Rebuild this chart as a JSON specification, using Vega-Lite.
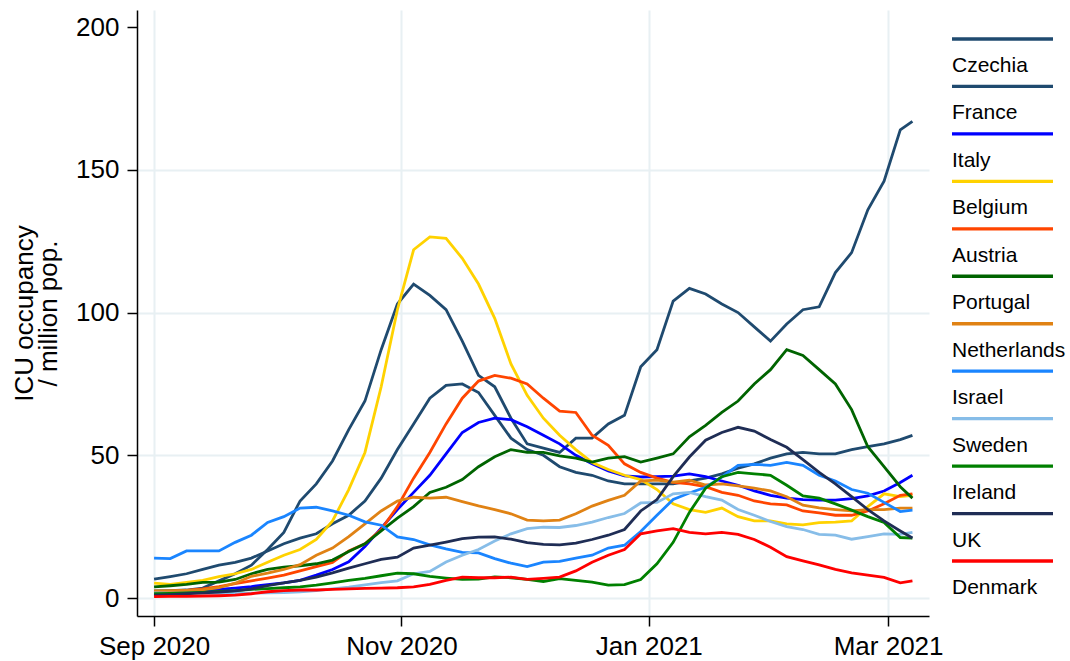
{
"$schema": "https://vega.github.io/schema/vega-lite/v6.json",
"background": "white",
"padding": {"left": 11, "top": 10, "right": 5, "bottom": 5},
"config": {"font": "Liberation Sans", "view": {"stroke": null}, "axis": {"labelFont": "Liberation Sans", "titleFont": "Liberation Sans", "labelColor": "black", "titleColor": "black", "domainColor": "black", "tickColor": "black"}},
"spacing": 6,
"datasets": {
"legend": [{"country":"Czechia"},{"country":"France"},{"country":"Italy"},{"country":"Belgium"},{"country":"Austria"},{"country":"Portugal"},{"country":"Netherlands"},{"country":"Israel"},{"country":"Sweden"},{"country":"Ireland"},{"country":"UK"},{"country":"Denmark"}],
"icu": [
{"date":"2020-09-01","country":"Czechia","value":2.5},{"date":"2020-09-05","country":"Czechia","value":2.6},{"date":"2020-09-09","country":"Czechia","value":2.8},{"date":"2020-09-13","country":"Czechia","value":3.5},{"date":"2020-09-17","country":"Czechia","value":6},{"date":"2020-09-21","country":"Czechia","value":8.5},{"date":"2020-09-25","country":"Czechia","value":11.5},{"date":"2020-09-29","country":"Czechia","value":17},{"date":"2020-10-03","country":"Czechia","value":23},{"date":"2020-10-07","country":"Czechia","value":34},{"date":"2020-10-11","country":"Czechia","value":40},{"date":"2020-10-15","country":"Czechia","value":48},{"date":"2020-10-19","country":"Czechia","value":59},{"date":"2020-10-23","country":"Czechia","value":69},{"date":"2020-10-27","country":"Czechia","value":87},{"date":"2020-10-31","country":"Czechia","value":103},{"date":"2020-11-04","country":"Czechia","value":110},{"date":"2020-11-08","country":"Czechia","value":106},{"date":"2020-11-12","country":"Czechia","value":101},{"date":"2020-11-16","country":"Czechia","value":90},{"date":"2020-11-20","country":"Czechia","value":78},{"date":"2020-11-24","country":"Czechia","value":74},{"date":"2020-11-28","country":"Czechia","value":63},{"date":"2020-12-02","country":"Czechia","value":54},{"date":"2020-12-06","country":"Czechia","value":52.5},{"date":"2020-12-10","country":"Czechia","value":51},{"date":"2020-12-14","country":"Czechia","value":56},{"date":"2020-12-18","country":"Czechia","value":56},{"date":"2020-12-22","country":"Czechia","value":61},{"date":"2020-12-26","country":"Czechia","value":64},{"date":"2020-12-30","country":"Czechia","value":81},{"date":"2021-01-03","country":"Czechia","value":87},{"date":"2021-01-07","country":"Czechia","value":104},{"date":"2021-01-11","country":"Czechia","value":108.5},{"date":"2021-01-15","country":"Czechia","value":106.5},{"date":"2021-01-19","country":"Czechia","value":103},{"date":"2021-01-23","country":"Czechia","value":100},{"date":"2021-01-27","country":"Czechia","value":95},{"date":"2021-01-31","country":"Czechia","value":90},{"date":"2021-02-04","country":"Czechia","value":96},{"date":"2021-02-08","country":"Czechia","value":101},{"date":"2021-02-12","country":"Czechia","value":102},{"date":"2021-02-16","country":"Czechia","value":114},{"date":"2021-02-20","country":"Czechia","value":121},{"date":"2021-02-24","country":"Czechia","value":136},{"date":"2021-02-28","country":"Czechia","value":146},{"date":"2021-03-04","country":"Czechia","value":164},{"date":"2021-03-07","country":"Czechia","value":167},
{"date":"2020-09-01","country":"France","value":6.6},{"date":"2020-09-05","country":"France","value":7.5},{"date":"2020-09-09","country":"France","value":8.5},{"date":"2020-09-13","country":"France","value":10},{"date":"2020-09-17","country":"France","value":11.5},{"date":"2020-09-21","country":"France","value":12.5},{"date":"2020-09-25","country":"France","value":14},{"date":"2020-09-29","country":"France","value":16.5},{"date":"2020-10-03","country":"France","value":19},{"date":"2020-10-07","country":"France","value":21},{"date":"2020-10-11","country":"France","value":22.5},{"date":"2020-10-15","country":"France","value":26},{"date":"2020-10-19","country":"France","value":29},{"date":"2020-10-23","country":"France","value":34},{"date":"2020-10-27","country":"France","value":42},{"date":"2020-10-31","country":"France","value":52},{"date":"2020-11-04","country":"France","value":61},{"date":"2020-11-08","country":"France","value":70},{"date":"2020-11-12","country":"France","value":74.5},{"date":"2020-11-16","country":"France","value":75},{"date":"2020-11-20","country":"France","value":72},{"date":"2020-11-24","country":"France","value":64},{"date":"2020-11-28","country":"France","value":56},{"date":"2020-12-02","country":"France","value":52},{"date":"2020-12-06","country":"France","value":50},{"date":"2020-12-10","country":"France","value":46},{"date":"2020-12-14","country":"France","value":44},{"date":"2020-12-18","country":"France","value":43},{"date":"2020-12-22","country":"France","value":41},{"date":"2020-12-26","country":"France","value":40},{"date":"2020-12-30","country":"France","value":40},{"date":"2021-01-03","country":"France","value":40},{"date":"2021-01-07","country":"France","value":40},{"date":"2021-01-11","country":"France","value":41},{"date":"2021-01-15","country":"France","value":42},{"date":"2021-01-19","country":"France","value":43.5},{"date":"2021-01-23","country":"France","value":45.5},{"date":"2021-01-27","country":"France","value":47},{"date":"2021-01-31","country":"France","value":49},{"date":"2021-02-04","country":"France","value":50.5},{"date":"2021-02-08","country":"France","value":51},{"date":"2021-02-12","country":"France","value":50.5},{"date":"2021-02-16","country":"France","value":50.5},{"date":"2021-02-20","country":"France","value":52},{"date":"2021-02-24","country":"France","value":53},{"date":"2021-02-28","country":"France","value":54},{"date":"2021-03-04","country":"France","value":55.5},{"date":"2021-03-07","country":"France","value":57},
{"date":"2020-09-01","country":"Italy","value":1.8},{"date":"2020-09-05","country":"Italy","value":2},{"date":"2020-09-09","country":"Italy","value":2.3},{"date":"2020-09-13","country":"Italy","value":2.6},{"date":"2020-09-17","country":"Italy","value":3},{"date":"2020-09-21","country":"Italy","value":3.5},{"date":"2020-09-25","country":"Italy","value":4},{"date":"2020-09-29","country":"Italy","value":4.7},{"date":"2020-10-03","country":"Italy","value":5.3},{"date":"2020-10-07","country":"Italy","value":6.2},{"date":"2020-10-11","country":"Italy","value":8},{"date":"2020-10-15","country":"Italy","value":10},{"date":"2020-10-19","country":"Italy","value":12.7},{"date":"2020-10-23","country":"Italy","value":18},{"date":"2020-10-27","country":"Italy","value":24.5},{"date":"2020-10-31","country":"Italy","value":31},{"date":"2020-11-04","country":"Italy","value":37},{"date":"2020-11-08","country":"Italy","value":43},{"date":"2020-11-12","country":"Italy","value":50.5},{"date":"2020-11-16","country":"Italy","value":58},{"date":"2020-11-20","country":"Italy","value":61.5},{"date":"2020-11-24","country":"Italy","value":63},{"date":"2020-11-28","country":"Italy","value":62.5},{"date":"2020-12-02","country":"Italy","value":60},{"date":"2020-12-06","country":"Italy","value":57},{"date":"2020-12-10","country":"Italy","value":54},{"date":"2020-12-14","country":"Italy","value":50},{"date":"2020-12-18","country":"Italy","value":47},{"date":"2020-12-22","country":"Italy","value":44.5},{"date":"2020-12-26","country":"Italy","value":42.8},{"date":"2020-12-30","country":"Italy","value":42.4},{"date":"2021-01-03","country":"Italy","value":42.5},{"date":"2021-01-07","country":"Italy","value":42.7},{"date":"2021-01-11","country":"Italy","value":43.5},{"date":"2021-01-15","country":"Italy","value":42.5},{"date":"2021-01-19","country":"Italy","value":41},{"date":"2021-01-23","country":"Italy","value":39.5},{"date":"2021-01-27","country":"Italy","value":37.5},{"date":"2021-01-31","country":"Italy","value":36},{"date":"2021-02-04","country":"Italy","value":35},{"date":"2021-02-08","country":"Italy","value":34.5},{"date":"2021-02-12","country":"Italy","value":34.3},{"date":"2021-02-16","country":"Italy","value":34.3},{"date":"2021-02-20","country":"Italy","value":34.8},{"date":"2021-02-24","country":"Italy","value":35.8},{"date":"2021-02-28","country":"Italy","value":37.5},{"date":"2021-03-04","country":"Italy","value":40.5},{"date":"2021-03-07","country":"Italy","value":43},
{"date":"2020-09-01","country":"Belgium","value":5.2},{"date":"2020-09-05","country":"Belgium","value":4.8},{"date":"2020-09-09","country":"Belgium","value":5.5},{"date":"2020-09-13","country":"Belgium","value":6.2},{"date":"2020-09-17","country":"Belgium","value":7.5},{"date":"2020-09-21","country":"Belgium","value":8.5},{"date":"2020-09-25","country":"Belgium","value":10},{"date":"2020-09-29","country":"Belgium","value":12.5},{"date":"2020-10-03","country":"Belgium","value":15},{"date":"2020-10-07","country":"Belgium","value":17},{"date":"2020-10-11","country":"Belgium","value":20.5},{"date":"2020-10-15","country":"Belgium","value":27},{"date":"2020-10-19","country":"Belgium","value":38},{"date":"2020-10-23","country":"Belgium","value":51},{"date":"2020-10-27","country":"Belgium","value":74},{"date":"2020-10-31","country":"Belgium","value":101},{"date":"2020-11-04","country":"Belgium","value":122},{"date":"2020-11-08","country":"Belgium","value":126.5},{"date":"2020-11-12","country":"Belgium","value":126},{"date":"2020-11-16","country":"Belgium","value":119},{"date":"2020-11-20","country":"Belgium","value":110},{"date":"2020-11-24","country":"Belgium","value":98},{"date":"2020-11-28","country":"Belgium","value":82},{"date":"2020-12-02","country":"Belgium","value":71},{"date":"2020-12-06","country":"Belgium","value":63},{"date":"2020-12-10","country":"Belgium","value":57},{"date":"2020-12-14","country":"Belgium","value":52},{"date":"2020-12-18","country":"Belgium","value":47.5},{"date":"2020-12-22","country":"Belgium","value":45},{"date":"2020-12-26","country":"Belgium","value":43},{"date":"2020-12-30","country":"Belgium","value":41.5},{"date":"2021-01-03","country":"Belgium","value":38},{"date":"2021-01-07","country":"Belgium","value":33},{"date":"2021-01-11","country":"Belgium","value":31},{"date":"2021-01-15","country":"Belgium","value":30},{"date":"2021-01-19","country":"Belgium","value":31.5},{"date":"2021-01-23","country":"Belgium","value":28.5},{"date":"2021-01-27","country":"Belgium","value":27},{"date":"2021-01-31","country":"Belgium","value":27},{"date":"2021-02-04","country":"Belgium","value":26},{"date":"2021-02-08","country":"Belgium","value":25.6},{"date":"2021-02-12","country":"Belgium","value":26.4},{"date":"2021-02-16","country":"Belgium","value":26.6},{"date":"2021-02-20","country":"Belgium","value":27},{"date":"2021-02-24","country":"Belgium","value":32},{"date":"2021-02-28","country":"Belgium","value":36.5},{"date":"2021-03-04","country":"Belgium","value":35.5},{"date":"2021-03-07","country":"Belgium","value":36},
{"date":"2020-09-01","country":"Austria","value":2},{"date":"2020-09-05","country":"Austria","value":2.3},{"date":"2020-09-09","country":"Austria","value":2.7},{"date":"2020-09-13","country":"Austria","value":3.2},{"date":"2020-09-17","country":"Austria","value":4},{"date":"2020-09-21","country":"Austria","value":5},{"date":"2020-09-25","country":"Austria","value":6},{"date":"2020-09-29","country":"Austria","value":7},{"date":"2020-10-03","country":"Austria","value":8},{"date":"2020-10-07","country":"Austria","value":9.5},{"date":"2020-10-11","country":"Austria","value":11},{"date":"2020-10-15","country":"Austria","value":12.5},{"date":"2020-10-19","country":"Austria","value":16.5},{"date":"2020-10-23","country":"Austria","value":19},{"date":"2020-10-27","country":"Austria","value":24},{"date":"2020-10-31","country":"Austria","value":32},{"date":"2020-11-04","country":"Austria","value":42},{"date":"2020-11-08","country":"Austria","value":51},{"date":"2020-11-12","country":"Austria","value":61},{"date":"2020-11-16","country":"Austria","value":70},{"date":"2020-11-20","country":"Austria","value":76},{"date":"2020-11-24","country":"Austria","value":78},{"date":"2020-11-28","country":"Austria","value":77},{"date":"2020-12-02","country":"Austria","value":75},{"date":"2020-12-06","country":"Austria","value":70},{"date":"2020-12-10","country":"Austria","value":65.5},{"date":"2020-12-14","country":"Austria","value":65},{"date":"2020-12-18","country":"Austria","value":57},{"date":"2020-12-22","country":"Austria","value":53.5},{"date":"2020-12-26","country":"Austria","value":47},{"date":"2020-12-30","country":"Austria","value":44},{"date":"2021-01-03","country":"Austria","value":42},{"date":"2021-01-07","country":"Austria","value":40.5},{"date":"2021-01-11","country":"Austria","value":40},{"date":"2021-01-15","country":"Austria","value":39},{"date":"2021-01-19","country":"Austria","value":37},{"date":"2021-01-23","country":"Austria","value":36},{"date":"2021-01-27","country":"Austria","value":34},{"date":"2021-01-31","country":"Austria","value":33},{"date":"2021-02-04","country":"Austria","value":32.6},{"date":"2021-02-08","country":"Austria","value":30.5},{"date":"2021-02-12","country":"Austria","value":29.8},{"date":"2021-02-16","country":"Austria","value":29},{"date":"2021-02-20","country":"Austria","value":29},{"date":"2021-02-24","country":"Austria","value":30.5},{"date":"2021-02-28","country":"Austria","value":33},{"date":"2021-03-04","country":"Austria","value":36},{"date":"2021-03-07","country":"Austria","value":36.5},
{"date":"2020-09-01","country":"Portugal","value":3.9},{"date":"2020-09-05","country":"Portugal","value":4.3},{"date":"2020-09-09","country":"Portugal","value":4.8},{"date":"2020-09-13","country":"Portugal","value":5.5},{"date":"2020-09-17","country":"Portugal","value":5.6},{"date":"2020-09-21","country":"Portugal","value":6.5},{"date":"2020-09-25","country":"Portugal","value":8.5},{"date":"2020-09-29","country":"Portugal","value":10},{"date":"2020-10-03","country":"Portugal","value":10.8},{"date":"2020-10-07","country":"Portugal","value":11.3},{"date":"2020-10-11","country":"Portugal","value":12},{"date":"2020-10-15","country":"Portugal","value":13.3},{"date":"2020-10-19","country":"Portugal","value":16.3},{"date":"2020-10-23","country":"Portugal","value":19},{"date":"2020-10-27","country":"Portugal","value":23.5},{"date":"2020-10-31","country":"Portugal","value":28},{"date":"2020-11-04","country":"Portugal","value":32},{"date":"2020-11-08","country":"Portugal","value":37},{"date":"2020-11-12","country":"Portugal","value":38.8},{"date":"2020-11-16","country":"Portugal","value":41.5},{"date":"2020-11-20","country":"Portugal","value":46},{"date":"2020-11-24","country":"Portugal","value":49.5},{"date":"2020-11-28","country":"Portugal","value":52},{"date":"2020-12-02","country":"Portugal","value":51},{"date":"2020-12-06","country":"Portugal","value":51},{"date":"2020-12-10","country":"Portugal","value":49.8},{"date":"2020-12-14","country":"Portugal","value":49},{"date":"2020-12-18","country":"Portugal","value":47.6},{"date":"2020-12-22","country":"Portugal","value":49},{"date":"2020-12-26","country":"Portugal","value":49.5},{"date":"2020-12-30","country":"Portugal","value":47.6},{"date":"2021-01-03","country":"Portugal","value":49},{"date":"2021-01-07","country":"Portugal","value":50.5},{"date":"2021-01-11","country":"Portugal","value":56.5},{"date":"2021-01-15","country":"Portugal","value":60.5},{"date":"2021-01-19","country":"Portugal","value":65},{"date":"2021-01-23","country":"Portugal","value":69},{"date":"2021-01-27","country":"Portugal","value":75},{"date":"2021-01-31","country":"Portugal","value":80},{"date":"2021-02-04","country":"Portugal","value":87},{"date":"2021-02-08","country":"Portugal","value":85},{"date":"2021-02-12","country":"Portugal","value":80},{"date":"2021-02-16","country":"Portugal","value":75},{"date":"2021-02-20","country":"Portugal","value":66},{"date":"2021-02-24","country":"Portugal","value":53},{"date":"2021-02-28","country":"Portugal","value":46},{"date":"2021-03-04","country":"Portugal","value":39},{"date":"2021-03-07","country":"Portugal","value":35},
{"date":"2020-09-01","country":"Netherlands","value":2.5},{"date":"2020-09-05","country":"Netherlands","value":2.6},{"date":"2020-09-09","country":"Netherlands","value":2.7},{"date":"2020-09-13","country":"Netherlands","value":2.9},{"date":"2020-09-17","country":"Netherlands","value":3.6},{"date":"2020-09-21","country":"Netherlands","value":5.2},{"date":"2020-09-25","country":"Netherlands","value":7.6},{"date":"2020-09-29","country":"Netherlands","value":8.7},{"date":"2020-10-03","country":"Netherlands","value":10},{"date":"2020-10-07","country":"Netherlands","value":11.7},{"date":"2020-10-11","country":"Netherlands","value":15},{"date":"2020-10-15","country":"Netherlands","value":17.5},{"date":"2020-10-19","country":"Netherlands","value":21.5},{"date":"2020-10-23","country":"Netherlands","value":26},{"date":"2020-10-27","country":"Netherlands","value":30.5},{"date":"2020-10-31","country":"Netherlands","value":34},{"date":"2020-11-04","country":"Netherlands","value":35.3},{"date":"2020-11-08","country":"Netherlands","value":35},{"date":"2020-11-12","country":"Netherlands","value":35.3},{"date":"2020-11-16","country":"Netherlands","value":33.8},{"date":"2020-11-20","country":"Netherlands","value":32.3},{"date":"2020-11-24","country":"Netherlands","value":31},{"date":"2020-11-28","country":"Netherlands","value":29.5},{"date":"2020-12-02","country":"Netherlands","value":27.3},{"date":"2020-12-06","country":"Netherlands","value":27},{"date":"2020-12-10","country":"Netherlands","value":27.3},{"date":"2020-12-14","country":"Netherlands","value":29.5},{"date":"2020-12-18","country":"Netherlands","value":32.2},{"date":"2020-12-22","country":"Netherlands","value":34.2},{"date":"2020-12-26","country":"Netherlands","value":36},{"date":"2020-12-30","country":"Netherlands","value":41},{"date":"2021-01-03","country":"Netherlands","value":41.3},{"date":"2021-01-07","country":"Netherlands","value":40.6},{"date":"2021-01-11","country":"Netherlands","value":41.3},{"date":"2021-01-15","country":"Netherlands","value":39.6},{"date":"2021-01-19","country":"Netherlands","value":40},{"date":"2021-01-23","country":"Netherlands","value":39.3},{"date":"2021-01-27","country":"Netherlands","value":38.5},{"date":"2021-01-31","country":"Netherlands","value":37.5},{"date":"2021-02-04","country":"Netherlands","value":35.5},{"date":"2021-02-08","country":"Netherlands","value":32.5},{"date":"2021-02-12","country":"Netherlands","value":31.6},{"date":"2021-02-16","country":"Netherlands","value":31},{"date":"2021-02-20","country":"Netherlands","value":30.5},{"date":"2021-02-24","country":"Netherlands","value":31},{"date":"2021-02-28","country":"Netherlands","value":31},{"date":"2021-03-04","country":"Netherlands","value":31.5},{"date":"2021-03-07","country":"Netherlands","value":31.5},
{"date":"2020-09-01","country":"Israel","value":14},{"date":"2020-09-05","country":"Israel","value":13.8},{"date":"2020-09-09","country":"Israel","value":16.5},{"date":"2020-09-13","country":"Israel","value":16.5},{"date":"2020-09-17","country":"Israel","value":16.5},{"date":"2020-09-21","country":"Israel","value":19.5},{"date":"2020-09-25","country":"Israel","value":22},{"date":"2020-09-29","country":"Israel","value":26.5},{"date":"2020-10-03","country":"Israel","value":28.5},{"date":"2020-10-07","country":"Israel","value":31.5},{"date":"2020-10-11","country":"Israel","value":31.8},{"date":"2020-10-15","country":"Israel","value":30.5},{"date":"2020-10-19","country":"Israel","value":29},{"date":"2020-10-23","country":"Israel","value":26.7},{"date":"2020-10-27","country":"Israel","value":25.5},{"date":"2020-10-31","country":"Israel","value":21.4},{"date":"2020-11-04","country":"Israel","value":20.5},{"date":"2020-11-08","country":"Israel","value":18.6},{"date":"2020-11-12","country":"Israel","value":17.2},{"date":"2020-11-16","country":"Israel","value":16},{"date":"2020-11-20","country":"Israel","value":15.8},{"date":"2020-11-24","country":"Israel","value":13.8},{"date":"2020-11-28","country":"Israel","value":12.2},{"date":"2020-12-02","country":"Israel","value":11},{"date":"2020-12-06","country":"Israel","value":12.6},{"date":"2020-12-10","country":"Israel","value":12.8},{"date":"2020-12-14","country":"Israel","value":14},{"date":"2020-12-18","country":"Israel","value":15},{"date":"2020-12-22","country":"Israel","value":17.5},{"date":"2020-12-26","country":"Israel","value":18.5},{"date":"2020-12-30","country":"Israel","value":23.3},{"date":"2021-01-03","country":"Israel","value":29},{"date":"2021-01-07","country":"Israel","value":34.5},{"date":"2021-01-11","country":"Israel","value":36.8},{"date":"2021-01-15","country":"Israel","value":38.8},{"date":"2021-01-19","country":"Israel","value":42.4},{"date":"2021-01-23","country":"Israel","value":46.5},{"date":"2021-01-27","country":"Israel","value":46.8},{"date":"2021-01-31","country":"Israel","value":46.5},{"date":"2021-02-04","country":"Israel","value":47.5},{"date":"2021-02-08","country":"Israel","value":46.5},{"date":"2021-02-12","country":"Israel","value":43},{"date":"2021-02-16","country":"Israel","value":41},{"date":"2021-02-20","country":"Israel","value":38},{"date":"2021-02-24","country":"Israel","value":36.7},{"date":"2021-02-28","country":"Israel","value":33.5},{"date":"2021-03-04","country":"Israel","value":30.3},{"date":"2021-03-07","country":"Israel","value":30.8},
{"date":"2020-09-01","country":"Sweden","value":1.8},{"date":"2020-09-05","country":"Sweden","value":1.7},{"date":"2020-09-09","country":"Sweden","value":1.7},{"date":"2020-09-13","country":"Sweden","value":1.6},{"date":"2020-09-17","country":"Sweden","value":1.6},{"date":"2020-09-21","country":"Sweden","value":1.7},{"date":"2020-09-25","country":"Sweden","value":1.7},{"date":"2020-09-29","country":"Sweden","value":1.8},{"date":"2020-10-03","country":"Sweden","value":1.9},{"date":"2020-10-07","country":"Sweden","value":2.2},{"date":"2020-10-11","country":"Sweden","value":2.6},{"date":"2020-10-15","country":"Sweden","value":3.2},{"date":"2020-10-19","country":"Sweden","value":3.8},{"date":"2020-10-23","country":"Sweden","value":4.6},{"date":"2020-10-27","country":"Sweden","value":5.4},{"date":"2020-10-31","country":"Sweden","value":6},{"date":"2020-11-04","country":"Sweden","value":8.5},{"date":"2020-11-08","country":"Sweden","value":9.3},{"date":"2020-11-12","country":"Sweden","value":12.6},{"date":"2020-11-16","country":"Sweden","value":15},{"date":"2020-11-20","country":"Sweden","value":17},{"date":"2020-11-24","country":"Sweden","value":20},{"date":"2020-11-28","country":"Sweden","value":22.5},{"date":"2020-12-02","country":"Sweden","value":24.3},{"date":"2020-12-06","country":"Sweden","value":24.8},{"date":"2020-12-10","country":"Sweden","value":24.7},{"date":"2020-12-14","country":"Sweden","value":25.4},{"date":"2020-12-18","country":"Sweden","value":26.6},{"date":"2020-12-22","country":"Sweden","value":28.2},{"date":"2020-12-26","country":"Sweden","value":29.6},{"date":"2020-12-30","country":"Sweden","value":33.3},{"date":"2021-01-03","country":"Sweden","value":33.5},{"date":"2021-01-07","country":"Sweden","value":36.5},{"date":"2021-01-11","country":"Sweden","value":37},{"date":"2021-01-15","country":"Sweden","value":35.5},{"date":"2021-01-19","country":"Sweden","value":34.3},{"date":"2021-01-23","country":"Sweden","value":31},{"date":"2021-01-27","country":"Sweden","value":29},{"date":"2021-01-31","country":"Sweden","value":26.8},{"date":"2021-02-04","country":"Sweden","value":25},{"date":"2021-02-08","country":"Sweden","value":24},{"date":"2021-02-12","country":"Sweden","value":22.3},{"date":"2021-02-16","country":"Sweden","value":22},{"date":"2021-02-20","country":"Sweden","value":20.6},{"date":"2021-02-24","country":"Sweden","value":21.5},{"date":"2021-02-28","country":"Sweden","value":22.5},{"date":"2021-03-04","country":"Sweden","value":22.3},{"date":"2021-03-07","country":"Sweden","value":23},
{"date":"2020-09-01","country":"Ireland","value":1.5},{"date":"2020-09-05","country":"Ireland","value":1.6},{"date":"2020-09-09","country":"Ireland","value":1.8},{"date":"2020-09-13","country":"Ireland","value":2},{"date":"2020-09-17","country":"Ireland","value":2.3},{"date":"2020-09-21","country":"Ireland","value":2.6},{"date":"2020-09-25","country":"Ireland","value":3},{"date":"2020-09-29","country":"Ireland","value":3.3},{"date":"2020-10-03","country":"Ireland","value":3.6},{"date":"2020-10-07","country":"Ireland","value":3.9},{"date":"2020-10-11","country":"Ireland","value":4.5},{"date":"2020-10-15","country":"Ireland","value":5.3},{"date":"2020-10-19","country":"Ireland","value":6.2},{"date":"2020-10-23","country":"Ireland","value":6.9},{"date":"2020-10-27","country":"Ireland","value":7.8},{"date":"2020-10-31","country":"Ireland","value":8.7},{"date":"2020-11-04","country":"Ireland","value":8.5},{"date":"2020-11-08","country":"Ireland","value":7.6},{"date":"2020-11-12","country":"Ireland","value":7},{"date":"2020-11-16","country":"Ireland","value":6.5},{"date":"2020-11-20","country":"Ireland","value":6.6},{"date":"2020-11-24","country":"Ireland","value":7.4},{"date":"2020-11-28","country":"Ireland","value":7.1},{"date":"2020-12-02","country":"Ireland","value":6.5},{"date":"2020-12-06","country":"Ireland","value":5.8},{"date":"2020-12-10","country":"Ireland","value":6.8},{"date":"2020-12-14","country":"Ireland","value":6.2},{"date":"2020-12-18","country":"Ireland","value":5.6},{"date":"2020-12-22","country":"Ireland","value":4.5},{"date":"2020-12-26","country":"Ireland","value":4.7},{"date":"2020-12-30","country":"Ireland","value":6.5},{"date":"2021-01-03","country":"Ireland","value":12},{"date":"2021-01-07","country":"Ireland","value":19.5},{"date":"2021-01-11","country":"Ireland","value":30},{"date":"2021-01-15","country":"Ireland","value":38.5},{"date":"2021-01-19","country":"Ireland","value":42.5},{"date":"2021-01-23","country":"Ireland","value":44},{"date":"2021-01-27","country":"Ireland","value":43.5},{"date":"2021-01-31","country":"Ireland","value":43},{"date":"2021-02-04","country":"Ireland","value":39.5},{"date":"2021-02-08","country":"Ireland","value":35.8},{"date":"2021-02-12","country":"Ireland","value":35},{"date":"2021-02-16","country":"Ireland","value":33},{"date":"2021-02-20","country":"Ireland","value":30.8},{"date":"2021-02-24","country":"Ireland","value":28.5},{"date":"2021-02-28","country":"Ireland","value":26.5},{"date":"2021-03-04","country":"Ireland","value":21.2},{"date":"2021-03-07","country":"Ireland","value":21},
{"date":"2020-09-01","country":"UK","value":1},{"date":"2020-09-05","country":"UK","value":1.2},{"date":"2020-09-09","country":"UK","value":1.5},{"date":"2020-09-13","country":"UK","value":1.8},{"date":"2020-09-17","country":"UK","value":2.1},{"date":"2020-09-21","country":"UK","value":2.5},{"date":"2020-09-25","country":"UK","value":3.2},{"date":"2020-09-29","country":"UK","value":4.3},{"date":"2020-10-03","country":"UK","value":5.3},{"date":"2020-10-07","country":"UK","value":6.2},{"date":"2020-10-11","country":"UK","value":7.3},{"date":"2020-10-15","country":"UK","value":8.8},{"date":"2020-10-19","country":"UK","value":10.5},{"date":"2020-10-23","country":"UK","value":12},{"date":"2020-10-27","country":"UK","value":13.5},{"date":"2020-10-31","country":"UK","value":14.3},{"date":"2020-11-04","country":"UK","value":17.5},{"date":"2020-11-08","country":"UK","value":18.5},{"date":"2020-11-12","country":"UK","value":19.6},{"date":"2020-11-16","country":"UK","value":20.8},{"date":"2020-11-20","country":"UK","value":21.3},{"date":"2020-11-24","country":"UK","value":21.4},{"date":"2020-11-28","country":"UK","value":20.6},{"date":"2020-12-02","country":"UK","value":19.4},{"date":"2020-12-06","country":"UK","value":18.8},{"date":"2020-12-10","country":"UK","value":18.6},{"date":"2020-12-14","country":"UK","value":19.2},{"date":"2020-12-18","country":"UK","value":20.5},{"date":"2020-12-22","country":"UK","value":22},{"date":"2020-12-26","country":"UK","value":24},{"date":"2020-12-30","country":"UK","value":30.5},{"date":"2021-01-03","country":"UK","value":34.5},{"date":"2021-01-07","country":"UK","value":42.5},{"date":"2021-01-11","country":"UK","value":49.4},{"date":"2021-01-15","country":"UK","value":55.3},{"date":"2021-01-19","country":"UK","value":58},{"date":"2021-01-23","country":"UK","value":59.8},{"date":"2021-01-27","country":"UK","value":58.5},{"date":"2021-01-31","country":"UK","value":55.5},{"date":"2021-02-04","country":"UK","value":52.8},{"date":"2021-02-08","country":"UK","value":48.5},{"date":"2021-02-12","country":"UK","value":44},{"date":"2021-02-16","country":"UK","value":40},{"date":"2021-02-20","country":"UK","value":35.5},{"date":"2021-02-24","country":"UK","value":31},{"date":"2021-02-28","country":"UK","value":27},{"date":"2021-03-04","country":"UK","value":23.5},{"date":"2021-03-07","country":"UK","value":21},
{"date":"2020-09-01","country":"Denmark","value":0.5},{"date":"2020-09-05","country":"Denmark","value":0.6},{"date":"2020-09-09","country":"Denmark","value":0.6},{"date":"2020-09-13","country":"Denmark","value":0.7},{"date":"2020-09-17","country":"Denmark","value":0.8},{"date":"2020-09-21","country":"Denmark","value":1},{"date":"2020-09-25","country":"Denmark","value":1.5},{"date":"2020-09-29","country":"Denmark","value":2.2},{"date":"2020-10-03","country":"Denmark","value":2.6},{"date":"2020-10-07","country":"Denmark","value":2.8},{"date":"2020-10-11","country":"Denmark","value":2.8},{"date":"2020-10-15","country":"Denmark","value":3},{"date":"2020-10-19","country":"Denmark","value":3.2},{"date":"2020-10-23","country":"Denmark","value":3.4},{"date":"2020-10-27","country":"Denmark","value":3.5},{"date":"2020-10-31","country":"Denmark","value":3.6},{"date":"2020-11-04","country":"Denmark","value":3.9},{"date":"2020-11-08","country":"Denmark","value":4.8},{"date":"2020-11-12","country":"Denmark","value":6.2},{"date":"2020-11-16","country":"Denmark","value":7.3},{"date":"2020-11-20","country":"Denmark","value":7.1},{"date":"2020-11-24","country":"Denmark","value":7.1},{"date":"2020-11-28","country":"Denmark","value":7.3},{"date":"2020-12-02","country":"Denmark","value":6.5},{"date":"2020-12-06","country":"Denmark","value":6.9},{"date":"2020-12-10","country":"Denmark","value":7.3},{"date":"2020-12-14","country":"Denmark","value":9.5},{"date":"2020-12-18","country":"Denmark","value":12.5},{"date":"2020-12-22","country":"Denmark","value":15},{"date":"2020-12-26","country":"Denmark","value":17},{"date":"2020-12-30","country":"Denmark","value":22.5},{"date":"2021-01-03","country":"Denmark","value":23.5},{"date":"2021-01-07","country":"Denmark","value":24.3},{"date":"2021-01-11","country":"Denmark","value":23},{"date":"2021-01-15","country":"Denmark","value":22.5},{"date":"2021-01-19","country":"Denmark","value":23},{"date":"2021-01-23","country":"Denmark","value":22.3},{"date":"2021-01-27","country":"Denmark","value":20.5},{"date":"2021-01-31","country":"Denmark","value":17.8},{"date":"2021-02-04","country":"Denmark","value":14.5},{"date":"2021-02-08","country":"Denmark","value":13},{"date":"2021-02-12","country":"Denmark","value":11.6},{"date":"2021-02-16","country":"Denmark","value":10},{"date":"2021-02-20","country":"Denmark","value":8.8},{"date":"2021-02-24","country":"Denmark","value":8},{"date":"2021-02-28","country":"Denmark","value":7.2},{"date":"2021-03-04","country":"Denmark","value":5.3},{"date":"2021-03-07","country":"Denmark","value":6}
]
},
"hconcat": [
{
"width": 792, "height": 606,
"data": {"name": "icu"},
"mark": {"type": "line", "strokeWidth": 2.8, "clip": true},
"encoding": {
"x": {"field": "date", "type": "temporal",
 "scale": {"type": "utc", "nice": false, "domain": [{"year": 2020, "month": 8, "date": 27, "hours": 19, "utc": true}, {"year": 2021, "month": 3, "date": 11, "hours": 2, "utc": true}]},
 "axis": {"title": null, "format": "%b %Y", "values": [{"year": 2020, "month": 9, "date": 1, "utc": true}, {"year": 2020, "month": 11, "date": 1, "utc": true}, {"year": 2021, "month": 1, "date": 1, "utc": true}, {"year": 2021, "month": 3, "date": 1, "utc": true}],
  "labelFontSize": 26, "labelFlush": false, "labelOverlap": false, "labelPadding": 7, "tickSize": 10, "tickWidth": 1.5, "domainWidth": 1.5, "grid": true, "gridColor": "#e8f0f3", "gridWidth": 2}},
"y": {"field": "value", "type": "quantitative",
 "scale": {"domain": [-6.3, 206], "nice": false, "zero": false},
 "axis": {"title": ["ICU occupancy", "/ million pop."], "titleFontSize": 26, "titleFontWeight": "normal", "titleLineHeight": 24, "titlePadding": 14, "values": [0, 50, 100, 150, 200], "labelFontSize": 26, "labelPadding": 8, "tickSize": 10, "tickWidth": 1.5, "domainWidth": 1.5, "grid": true, "gridWidth": 2, "gridColor": {"condition": {"test": "datum.value === 200", "value": "transparent"}, "value": "#e8f0f3"}}},
"color": {"field": "country", "type": "nominal", "legend": null,
 "scale": {"domain": ["Czechia","France","Italy","Belgium","Austria","Portugal","Netherlands","Israel","Sweden","Ireland","UK","Denmark"],
  "range": ["#1f4a6f","#1f4a6f","#0000ff","#ffd200","#ff4500","#006400","#e08214","#1a85ff","#87bde8","#008000","#1f2d55","#ff0000"]}}
}
},
{
"width": 101, "height": 580,
"data": {"name": "legend"},
"layer": [
{"mark": {"type": "rule", "strokeWidth": 3.3},
 "encoding": {
  "x": {"datum": 0, "type": "quantitative", "scale": {"domain": [0, 1]}, "axis": null},
  "x2": {"datum": 1},
  "y": {"field": "country", "type": "nominal", "sort": null, "scale": {"type": "point", "padding": 0.611}, "axis": null},
  "color": {"field": "country", "type": "nominal", "legend": null}}},
{"mark": {"type": "text", "align": "left", "baseline": "middle", "dy": 27, "fontSize": 21, "font": "Liberation Sans", "color": "black"},
 "encoding": {
  "x": {"datum": 0, "type": "quantitative"},
  "y": {"field": "country", "type": "nominal", "sort": null},
  "text": {"field": "country"}}}
]
}
]
}
